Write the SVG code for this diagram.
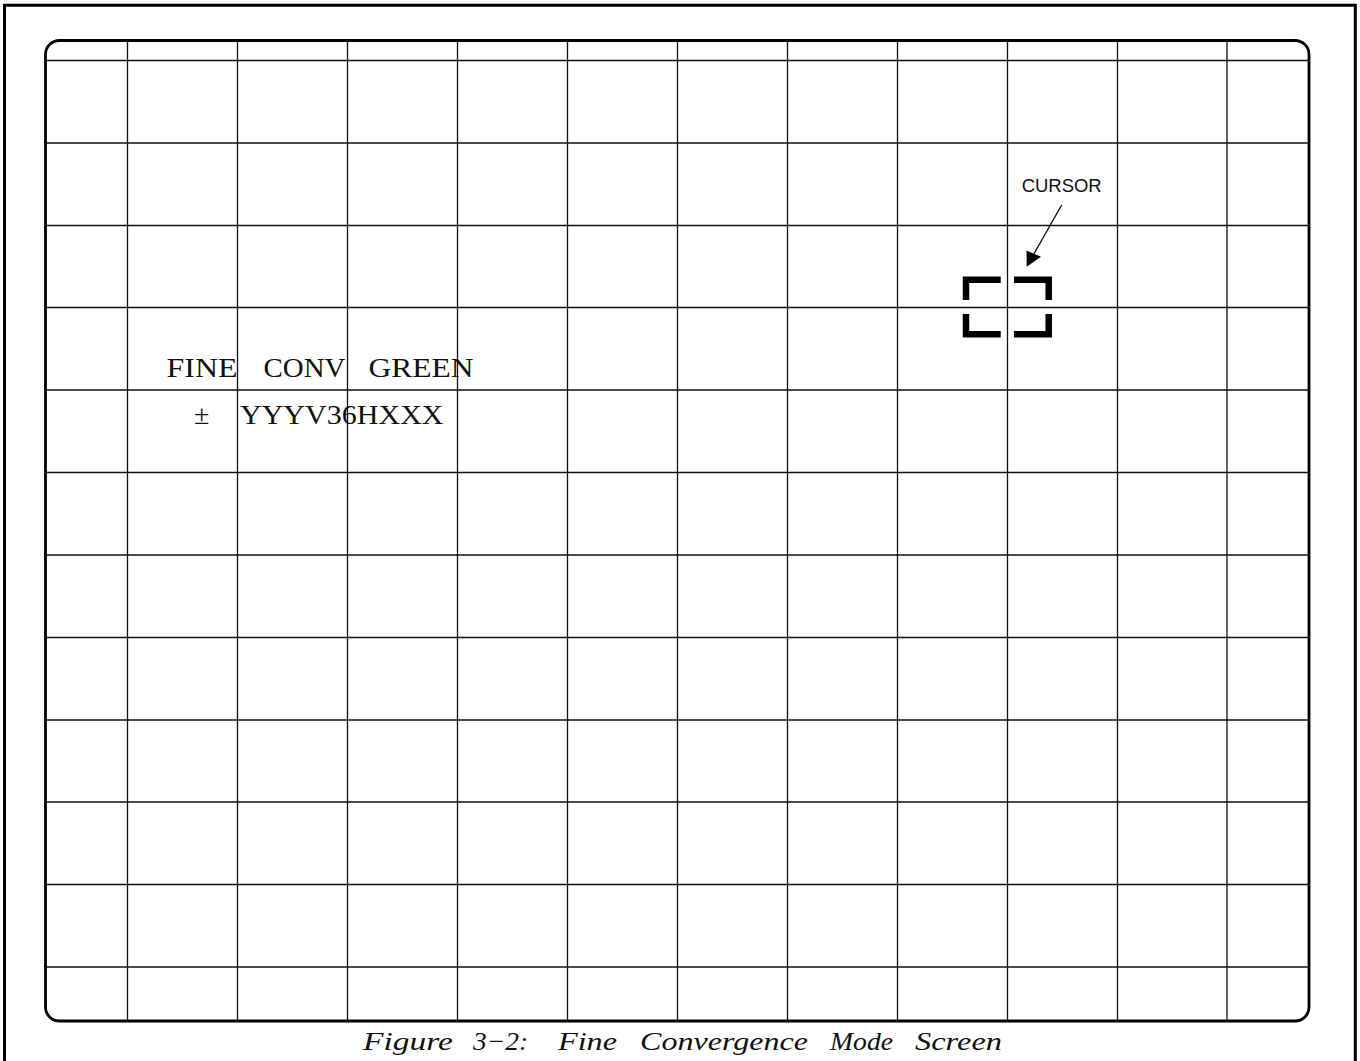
<svg xmlns="http://www.w3.org/2000/svg" width="1360" height="1061" viewBox="0 0 1360 1061">
<style>
.grid{stroke:#111;stroke-width:1.3;fill:none}
.frame{stroke:#000;fill:none}
.serif{font-family:"Liberation Serif","Times New Roman",serif;fill:#111}
.sans{font-family:"Liberation Sans",Arial,sans-serif;fill:#111}
.cur{stroke:#000;stroke-width:6.5;fill:none;stroke-linejoin:miter;stroke-linecap:butt}
</style>
<rect width="1360" height="1061" fill="#fff"/>
<g id="outer-frame">
<path class="frame" stroke-width="3" d="M4.5 1065 V5.3 H1355.3 V1065"/>
</g>
<g id="screen">
<g id="grid" class="grid">
<path d="M127.5 40 V1021 M237.5 40 V1021 M347.5 40 V1021 M457.5 40 V1021 M567.5 40 V1021 M677.5 40 V1021 M787.5 40 V1021 M897.5 40 V1021 M1007.5 40 V1021 M1117.5 40 V1021 M1227 40 V1021"/>
<path d="M45 60.5 H1309 M45 143 H1309 M45 225.5 H1309 M45 307.5 H1309 M45 390 H1309 M45 472.5 H1309 M45 555 H1309 M45 637.5 H1309 M45 720 H1309 M45 802 H1309 M45 884.5 H1309 M45 967 H1309"/>
</g>
<rect class="frame" stroke-width="2.8" x="45.5" y="40.5" width="1263.5" height="980.5" rx="14" ry="14"/>
</g>
<g id="status-text">
<text class="serif" font-size="28" x="166.5" y="376.5" textLength="71" lengthAdjust="spacingAndGlyphs">FINE</text>
<text class="serif" font-size="28" x="263.5" y="376.5" textLength="82" lengthAdjust="spacingAndGlyphs">CONV</text>
<text class="serif" font-size="28" x="368.5" y="376.5" textLength="105" lengthAdjust="spacingAndGlyphs">GREEN</text>
<text class="serif" font-size="28" x="194" y="423.5">±</text>
<text class="serif" font-size="28" x="240" y="423.5" textLength="203.5" lengthAdjust="spacingAndGlyphs">YYYV36HXXX</text>
</g>
<g id="cursor">
<path class="cur" d="M1000.7 279.8 H966 V300"/>
<path class="cur" d="M1014 279.8 H1048.7 V300"/>
<path class="cur" d="M966 314 V334.3 H1000.7"/>
<path class="cur" d="M1048.7 314 V334.3 H1014"/>
</g>
<g id="cursor-label">
<text class="sans" font-size="18" x="1021.7" y="192" textLength="80" lengthAdjust="spacingAndGlyphs">CURSOR</text>
</g>
<g id="connectors">
<line x1="1061.7" y1="205" x2="1033" y2="255.5" stroke="#111" stroke-width="1.4"/>
<polygon points="1026.7,266.7 1026.5,250.5 1041,256.8" fill="#000"/>
</g>
<g id="caption">
<text class="serif" font-style="italic" font-size="26" y="1050"><tspan x="363" textLength="90" lengthAdjust="spacingAndGlyphs">Figure</tspan> <tspan x="473" textLength="55" lengthAdjust="spacingAndGlyphs">3−2:</tspan> <tspan x="558" textLength="59" lengthAdjust="spacingAndGlyphs">Fine</tspan> <tspan x="640" textLength="168" lengthAdjust="spacingAndGlyphs">Convergence</tspan> <tspan x="830" textLength="63" lengthAdjust="spacingAndGlyphs">Mode</tspan> <tspan x="915" textLength="87" lengthAdjust="spacingAndGlyphs">Screen</tspan></text>
</g>
</svg>
